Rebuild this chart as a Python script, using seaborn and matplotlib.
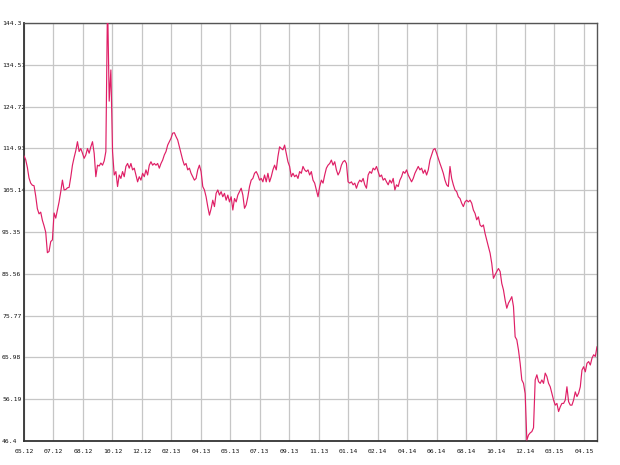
import numpy as np
import pandas as pd
import matplotlib
matplotlib.use("Agg")
import matplotlib.pyplot as plt
import seaborn as sns

# ---- data ----
prices_2012a = [113.2, 112.3, 110.5, 108.0, 106.8, 106.3, 106.2, 103.8, 100.8, 99.6,
                100.0, 98.1, 96.8, 95.3, 90.5, 90.8, 93.1, 93.5, 99.8, 98.6,
                100.5, 102.4, 104.8, 107.5, 105.2, 105.3, 105.7, 105.8, 108.2, 111.0,
                112.8, 114.4, 116.5, 114.2, 114.9, 113.8, 112.6, 113.4, 114.9, 113.8,
                115.3, 116.5, 113.8, 108.3, 111.0, 110.8, 111.5, 111.0, 112.0, 114.2,
                150.0, 126.0, 133.3, 114.2]
prices_2012b = [108.7, 109.5, 106.0, 108.7, 107.9, 109.5, 108.3, 110.7, 111.4, 110.3,
                111.4, 109.9, 110.3, 108.7, 107.1, 108.3, 107.5, 109.1, 108.3, 109.9,
                108.7, 111.0, 111.8, 111.0, 111.4, 111.0, 111.4, 110.3, 111.4, 112.2,
                113.4, 114.2, 115.7, 116.5, 117.3, 118.5, 118.6, 117.7, 116.9, 115.3,
                113.8, 112.2, 111.0, 111.4, 109.9, 110.3, 109.1, 108.3, 107.5, 107.9,
                109.9, 111.0, 109.5, 106.0, 105.2, 103.6, 101.3, 99.3]
prices_2013a = [100.8, 102.8, 101.3, 104.4, 105.2, 104.0, 104.8, 103.6, 104.4, 102.8,
                104.0, 102.4, 103.6, 100.5, 103.2, 102.4, 104.0, 104.8, 105.6, 104.0,
                100.9, 101.7, 103.6, 106.0, 107.5, 107.9, 109.1, 109.5, 108.7, 107.5,
                107.9, 107.1, 108.7, 107.1, 109.1, 107.1, 108.3, 109.9, 111.0, 109.9,
                113.0, 115.3, 114.9, 114.6, 115.7, 113.8, 111.8, 110.7, 108.3, 109.1,
                108.3, 108.7, 107.9, 109.5, 109.1, 110.7, 109.9]
prices_2013b = [109.5, 109.9, 108.7, 109.5, 107.5, 106.8, 105.2, 103.6, 106.0, 107.5,
                106.8, 108.7, 110.3, 111.0, 111.4, 112.2, 111.0, 111.8, 109.9, 108.7,
                109.5, 111.0, 111.8, 112.1, 111.4, 107.1, 106.8, 107.1, 106.4, 106.8,
                105.6, 106.8, 107.5, 107.1, 107.9, 106.4, 105.6, 108.7, 109.5, 109.1,
                110.3, 109.9, 110.7, 109.5, 108.3, 108.7, 107.5, 107.9, 107.1, 106.4,
                107.5, 106.8, 107.9, 105.2, 106.4, 106.0, 107.5]
prices_2014a = [108.3, 109.5, 109.1, 109.9, 108.7, 107.9, 107.1, 107.9, 109.1, 109.9,
                110.7, 109.9, 110.3, 109.1, 109.9, 108.7, 109.9, 112.2, 113.4, 114.6,
                114.9, 113.8, 112.6, 111.4, 110.3, 109.1, 107.5, 106.4, 106.0, 110.7,
                107.9, 106.4, 105.2, 104.8, 103.6, 103.2, 102.1, 101.3, 102.4, 102.8,
                102.4, 102.8, 102.1, 100.5, 99.7, 98.2, 98.9, 97.0, 96.6, 97.0,
                95.0, 93.4, 91.9, 90.4, 88.0, 84.5, 85.3]
prices_2014b = [86.1, 86.8, 86.1, 83.3, 81.8, 79.4, 77.5, 78.7, 79.4, 80.2,
                77.9, 70.8, 70.1, 67.7, 64.6, 60.7, 59.9, 57.5, 46.6, 47.8,
                48.3, 48.6, 49.5, 60.7, 61.9, 60.3, 59.9, 60.7, 59.9, 62.3,
                61.5, 59.9, 59.1, 57.6, 56.0, 54.8, 55.2, 53.3, 54.4, 55.2,
                55.2, 56.0, 59.1, 55.6, 54.8, 54.8, 56.0, 57.9, 56.8, 57.6,
                59.1, 63.0, 63.8, 62.6, 64.6, 65.0, 64.2, 65.8, 66.6, 66.2,
                68.5]

x_labels = ["05.12", "07.12", "08.12", "10.12", "12.12", "02.13", "04.13", "05.13",
            "07.13", "09.13", "11.13", "01.14", "02.14", "04.14", "06.14", "08.14",
            "10.14", "12.14", "03.15", "04.15"]
y_ticks = [46.4, 56.19, 65.98, 75.77, 85.56, 95.35, 105.14, 114.93, 124.72, 134.51, 144.3]
y_labels = ["46.4", "56.19", "65.98", "75.77", "85.56", "95.35", "105.14", "114.93",
            "124.72", "134.51", "144.3"]

values = (prices_2012a + prices_2012b + prices_2013a + prices_2013b
          + prices_2014a + prices_2014b)
df = pd.DataFrame({"day": np.arange(len(values)), "price": values})

# ---- figure ----
sns.set_style("white")
plt.rcParams["font.family"] = ["DejaVu Sans Mono", "DejaVu Sans"]

W, H = 620, 465
fig = plt.figure(figsize=(W / 100, H / 100), dpi=100)
ax = fig.add_axes([24 / W, 24 / H, 573 / W, 418 / H])

sns.lineplot(data=df, x="day", y="price", ax=ax, color="#DF1F66",
             linewidth=0.85, zorder=3)

n = len(values) - 1
tick_step = n * 29.47 / 573.0
ax.set_xlim(0, n)
ax.set_ylim(46.4, 144.3)
ax.set_xticks(np.arange(len(x_labels)) * tick_step)
ax.set_xticklabels(x_labels)
ax.set_yticks(y_ticks)
ax.set_yticklabels(y_labels)
ax.set_xlabel("")
ax.set_ylabel("")

ax.grid(True, color="#c6c6c6", linewidth=0.9, zorder=0)
ax.set_axisbelow(True)

ax.tick_params(axis="both", length=0, labelsize=4.6, labelcolor="#111111")
ax.tick_params(axis="x", pad=6)
ax.tick_params(axis="y", pad=15.8)
for lbl in ax.get_yticklabels():
    lbl.set_horizontalalignment("left")

for side in ["left", "bottom"]:
    ax.spines[side].set_color("#333333")
    ax.spines[side].set_linewidth(1.3)
for side in ["top", "right"]:
    ax.spines[side].set_color("#555555")
    ax.spines[side].set_linewidth(1.0)

fig.savefig("out.png", dpi=100)
